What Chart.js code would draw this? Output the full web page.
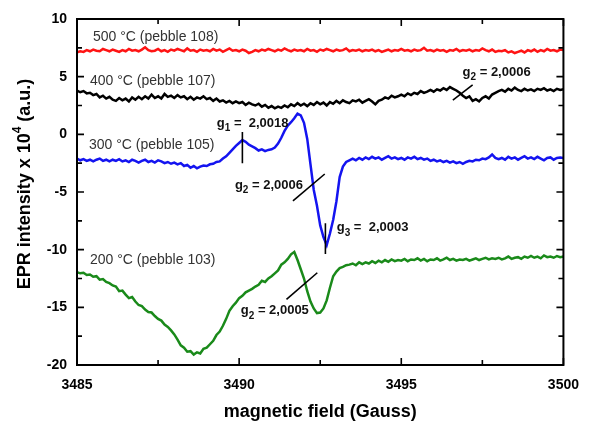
<!DOCTYPE html>
<html>
<head>
<meta charset="utf-8">
<script src="https://cdn.jsdelivr.net/npm/chart.js@4.4.1/dist/chart.umd.min.js"></script>
<style>
  html, body { margin: 0; padding: 0; background: #fff; }
  #epr { display: block; }
</style>
</head>
<body>
<canvas id="epr" width="591" height="423"></canvas>
<script>
// 磁場 (Gauss)
const field = [
  3485.0, 3485.1, 3485.2, 3485.3, 3485.4, 3485.5, 3485.6, 3485.7, 3485.8, 3485.9,
  3486.0, 3486.1, 3486.2, 3486.3, 3486.4, 3486.5, 3486.6, 3486.7, 3486.8, 3486.9,
  3487.0, 3487.1, 3487.2, 3487.3, 3487.4, 3487.5, 3487.6, 3487.7, 3487.8, 3487.9,
  3488.0, 3488.1, 3488.2, 3488.3, 3488.4, 3488.5, 3488.6, 3488.7, 3488.8, 3488.9,
  3489.0, 3489.1, 3489.2, 3489.3, 3489.4, 3489.5, 3489.6, 3489.7, 3489.8, 3489.9,
  3490.0, 3490.1, 3490.2, 3490.3, 3490.4, 3490.5, 3490.6, 3490.7, 3490.8, 3490.9,
  3491.0, 3491.1, 3491.2, 3491.3, 3491.4, 3491.5, 3491.6, 3491.7, 3491.8, 3491.9,
  3492.0, 3492.1, 3492.2, 3492.3, 3492.4, 3492.5, 3492.6, 3492.7, 3492.8, 3492.9,
  3493.0, 3493.1, 3493.2, 3493.3, 3493.4, 3493.5, 3493.6, 3493.7, 3493.8, 3493.9,
  3494.0, 3494.1, 3494.2, 3494.3, 3494.4, 3494.5, 3494.6, 3494.7, 3494.8, 3494.9,
  3495.0, 3495.1, 3495.2, 3495.3, 3495.4, 3495.5, 3495.6, 3495.7, 3495.8, 3495.9,
  3496.0, 3496.1, 3496.2, 3496.3, 3496.4, 3496.5, 3496.6, 3496.7, 3496.8, 3496.9,
  3497.0, 3497.1, 3497.2, 3497.3, 3497.4, 3497.5, 3497.6, 3497.7, 3497.8, 3497.9,
  3498.0, 3498.1, 3498.2, 3498.3, 3498.4, 3498.5, 3498.6, 3498.7, 3498.8, 3498.9,
  3499.0, 3499.1, 3499.2, 3499.3, 3499.4, 3499.5, 3499.6, 3499.7, 3499.8, 3499.9,
  3500.0
];

// 500 °C (pebble 108)
const epr500 = [
  7.1, 7.2, 7.15, 7.3, 7.2, 7.35, 7.25, 7.2, 7.4, 7.3,
  7.2, 7.35, 7.25, 7.15, 7.3, 7.2, 7.4, 7.25, 7.3, 7.2,
  7.35, 7.55, 7.3, 7.2, 7.25, 7.4, 7.2, 7.3, 7.15, 7.35,
  7.25, 7.4, 7.3, 7.2, 7.45, 7.25, 7.3, 7.15, 7.35, 7.25,
  7.3, 7.2, 7.4, 7.25, 7.35, 7.15, 7.3, 7.45, 7.25, 7.3,
  7.2, 7.35, 7.25, 7.05, 7.15, 7.3, 7.2, 7.35, 7.25, 7.4,
  7.3, 7.2, 7.35, 7.25, 7.45, 7.3, 7.2, 7.35, 7.25, 7.3,
  7.2, 7.4, 7.25, 7.3, 7.15, 7.35, 7.25, 7.4, 7.3, 7.2,
  7.35, 7.25, 7.3, 7.45, 7.2, 7.3, 7.25, 7.35, 7.2, 7.3,
  7.25, 7.35, 7.2, 7.3, 7.15, 7.25, 7.35, 7.2, 7.3, 7.25,
  7.4, 7.25, 7.3, 7.2, 7.35, 7.25, 7.3, 7.5, 7.25, 7.3,
  7.2, 7.35, 7.25, 7.3, 7.15, 7.3, 7.25, 7.4, 7.2, 7.3,
  7.25, 7.35, 7.2, 7.3, 7.25, 7.45, 7.3, 7.2, 7.35, 7.15,
  7.25, 7.2, 7.3, 7.1, 7.2, 7.05, 7.15, 7.25, 7.1, 7.3,
  7.2, 7.35, 7.15, 7.3, 7.2, 7.4, 7.25, 7.3, 7.2, 7.35,
  7.3
];

// 400 °C (pebble 107)
const epr400 = [
  3.8, 3.65, 3.75, 3.55, 3.6, 3.4, 3.5, 3.2, 3.35, 3.1,
  3.25, 3.0, 2.9, 3.15, 2.95, 3.1, 2.85, 3.2, 3.0, 3.25,
  3.05, 3.3, 3.1, 3.45, 3.15, 3.3, 3.1, 3.5, 3.25, 3.35,
  3.15, 3.4, 3.2, 3.3, 3.05, 3.25, 3.0, 3.2, 3.1, 3.3,
  3.05, 3.15, 2.9, 3.1, 2.85, 2.95, 2.75, 2.9, 2.7, 2.85,
  2.7, 2.8, 2.55, 2.75, 2.6, 2.5, 2.65, 2.4, 2.55, 2.3,
  2.45, 2.25, 2.4, 2.3, 2.5, 2.35, 2.6, 2.45, 2.7, 2.5,
  2.65, 2.45, 2.7, 2.55, 2.8, 2.6, 2.75, 2.5, 2.8, 2.65,
  2.9, 2.7, 2.95, 2.8, 2.7, 2.95, 2.85, 3.0, 2.75, 2.9,
  3.05, 2.85, 2.6, 2.9, 3.0, 3.2, 3.1, 3.35, 3.2, 3.3,
  3.45, 3.3, 3.55, 3.4, 3.6, 3.5, 3.75, 3.6, 3.7, 3.85,
  3.7, 3.9, 3.8, 4.0, 3.85, 4.1, 3.95, 3.8, 3.6, 3.35,
  3.15, 3.3, 2.9, 3.05, 2.85, 3.15, 3.3, 3.1, 3.45, 3.6,
  3.75, 3.85, 3.7, 3.95, 3.8, 4.05, 3.85, 3.75, 3.95, 3.8,
  3.9, 3.75, 3.95, 3.85, 4.0, 3.8, 3.9, 3.75, 3.95, 3.85,
  3.9
];

// 300 °C (pebble 105)
const epr300 = [
  -2.1, -2.25, -2.15, -2.3, -2.2, -2.35, -2.2, -2.1, -2.3, -2.2,
  -2.35, -2.2, -2.3, -2.15, -2.35, -2.25, -2.4, -2.2, -2.3, -2.45,
  -2.3, -2.2, -2.4, -2.3, -2.45, -2.25, -2.35, -2.5, -2.4, -2.55,
  -2.45, -2.6, -2.5, -2.75, -2.65, -2.9, -2.75, -2.95, -2.8, -2.7,
  -2.75, -2.6, -2.55, -2.4, -2.35, -2.1, -1.9, -1.6, -1.3, -1.0,
  -0.75, -0.5, -0.65, -0.9, -1.05, -1.2, -1.4, -1.3, -1.45, -1.35,
  -1.3, -1.15, -0.8, -0.3, 0.3, 0.75, 1.05, 1.4, 1.8, 1.65,
  1.0, -0.4, -2.6, -4.8, -6.2, -7.9, -8.9, -9.6, -8.6, -7.4,
  -5.8, -3.7, -2.8, -2.4, -2.25, -2.1, -2.25, -2.05, -2.2, -2.0,
  -2.15, -1.95, -2.1, -2.0, -2.2, -2.05, -1.9, -2.1, -2.0, -2.15,
  -2.05, -2.2, -2.0, -2.1, -1.95, -2.15, -2.05, -2.2, -2.1, -2.3,
  -2.2, -2.35, -2.25, -2.4, -2.3, -2.45, -2.35, -2.5, -2.4, -2.55,
  -2.4, -2.3, -2.35, -2.2, -2.25, -2.1, -2.15, -2.0, -1.75, -2.05,
  -2.15, -2.05, -2.2, -1.95, -2.1, -2.0, -2.2, -2.05, -1.9, -2.1,
  -2.0, -2.15, -1.95, -2.1, -2.25, -2.05, -2.0, -2.2, -2.05, -2.0,
  -2.05
];

// 200 °C (pebble 103)
const epr200 = [
  -11.95, -12.05, -12.0, -12.2, -12.15, -12.35, -12.3, -12.6, -12.55, -12.8,
  -12.9, -13.1, -13.2, -13.6, -13.55, -13.9, -14.2, -14.1, -14.5, -14.8,
  -14.9, -15.2, -15.4, -15.45, -15.75, -16.0, -16.15, -16.5, -16.7, -17.0,
  -17.35, -17.8, -18.3, -18.5, -18.85, -18.8, -19.1, -18.9, -19.0, -18.6,
  -18.5, -18.2, -17.9, -17.4, -17.1, -16.6, -16.0, -15.3, -14.9, -14.6,
  -14.2, -14.0, -13.7, -13.55, -13.4, -13.2, -13.05, -12.7, -12.8, -12.5,
  -12.3, -12.05, -11.8, -11.3, -11.1, -10.8, -10.4, -10.2, -10.9, -11.7,
  -12.5, -13.6, -14.5, -15.1, -15.5, -15.45, -15.1, -14.4, -13.3, -12.3,
  -11.9, -11.6, -11.5, -11.35, -11.3, -11.2, -11.35, -11.1, -11.25, -11.1,
  -11.2, -11.0, -11.15, -10.95, -11.1, -10.9, -11.05, -10.85, -11.0, -10.9,
  -10.95, -10.8, -11.0, -10.85, -10.9, -10.75, -10.95, -10.8, -11.0, -10.85,
  -10.9, -10.75, -10.95, -10.85, -10.7, -10.9, -10.8, -10.95, -10.85, -10.9,
  -10.8, -10.95, -10.85, -10.75, -10.9, -10.8, -10.7, -10.85, -10.75, -10.8,
  -10.7, -10.85, -10.75, -10.6, -10.8, -10.7, -10.65, -10.8, -10.6, -10.7,
  -10.55, -10.7, -10.6, -10.75, -10.5, -10.65, -10.6, -10.7, -10.55, -10.65,
  -10.6
];

const seriesNames = ['500 °C (pebble 108)', '400 °C (pebble 107)', '300 °C (pebble 105)', '200 °C (pebble 103)'];
const xTickLabels = ['3485', '3490', '3495', '3500'];
const yTickLabels = ['-20', '-15', '-10', '-5', '0', '5', '10'];

// g値のラベル [g, 添字, 残り]
const gTexts = [
  ['g', '1', ' =  2,0018'],
  ['g', '2', ' = 2,0006'],
  ['g', '3', ' =  2,0003'],
  ['g', '2', ' = 2,0005'],
  ['g', '2', ' = 2,0006']
];

const FONT = '"Liberation Sans", Arial, sans-serif';
const colors = ['#ff1414', '#000000', '#1414f0', '#1a8a1a'];

// 注釈の位置 (データ座標)
const namePos = [[3485.49, 8.44], [3485.40, 4.62], [3485.37, -0.93], [3485.40, -10.9]];
const gPos = [[3489.31, 0.98], [3489.87, -4.4], [3493.01, -8.1], [3490.05, -15.3], [3496.89, 5.4]];
const markLines = [
  [[3490.1, 0.2], [3490.1, -2.5]],
  [[3491.66, -5.76], [3492.64, -3.44]],
  [[3492.66, -7.72], [3492.66, -10.38]],
  [[3491.46, -14.31], [3492.41, -12.0]],
  [[3496.59, 2.97], [3497.2, 4.28]]
];

const curves = [epr500, epr400, epr300, epr200].map((vals, i) => ({
  label: seriesNames[i],
  data: field.map((x, j) => ({ x: x, y: vals[j] })),
  borderColor: colors[i],
  borderWidth: 2.5,
  pointRadius: 0,
  tension: 0,
  order: 2
}));

const marks = markLines.map(seg => ({
  label: '',
  data: seg.map(p => ({ x: p[0], y: p[1] })),
  borderColor: '#000',
  borderWidth: 1.6,
  pointRadius: 0,
  order: 1
}));

// 枠、内向きの目盛り、注釈
const framePlugin = {
  id: 'frame',
  afterDraw(chart) {
    const { ctx, chartArea: a, scales: { x, y } } = chart;
    ctx.save();
    ctx.strokeStyle = '#000';
    ctx.lineWidth = 2;
    ctx.strokeRect(a.left, a.top, a.right - a.left, a.bottom - a.top);

    ctx.lineWidth = 1.6;
    ctx.beginPath();
    x.ticks.forEach(t => {
      const px = x.getPixelForValue(t.value);
      const len = Math.abs(t.value % 5) < 0.01 ? 7 : 5;
      ctx.moveTo(px, a.bottom); ctx.lineTo(px, a.bottom - len);
      ctx.moveTo(px, a.top); ctx.lineTo(px, a.top + len);
    });
    y.ticks.forEach(t => {
      const py = y.getPixelForValue(t.value);
      const len = Math.abs(t.value % 5) < 0.01 ? 7 : 5;
      ctx.moveTo(a.left, py); ctx.lineTo(a.left + len, py);
      ctx.moveTo(a.right, py); ctx.lineTo(a.right - len, py);
    });
    ctx.stroke();

    // 温度ラベル
    ctx.fillStyle = '#333';
    ctx.textBaseline = 'middle';
    ctx.textAlign = 'left';
    ctx.font = '14px ' + FONT;
    seriesNames.forEach((s, i) => {
      ctx.fillText(s, x.getPixelForValue(namePos[i][0]), y.getPixelForValue(namePos[i][1]));
    });

    // g値
    ctx.fillStyle = '#111';
    gTexts.forEach((g, i) => {
      let px = x.getPixelForValue(gPos[i][0]);
      const py = y.getPixelForValue(gPos[i][1]);
      ctx.font = 'bold 13px ' + FONT;
      ctx.fillText(g[0], px, py);
      px += ctx.measureText(g[0]).width;
      ctx.font = 'bold 10px ' + FONT;
      ctx.fillText(g[1], px, py + 5);
      px += ctx.measureText(g[1]).width;
      ctx.font = 'bold 13px ' + FONT;
      ctx.fillText(g[2], px, py);
    });

    // 縦軸タイトル
    ctx.fillStyle = '#000';
    ctx.translate(25, 184);
    ctx.rotate(-Math.PI / 2);
    const t1 = 'EPR intensity x 10', t2 = '4', t3 = ' (a.u.)';
    ctx.font = 'bold 18px ' + FONT;
    const w1 = ctx.measureText(t1).width, w3 = ctx.measureText(t3).width;
    ctx.font = 'bold 12px ' + FONT;
    const w2 = ctx.measureText(t2).width;
    let tx = -(w1 + w2 + w3) / 2;
    ctx.font = 'bold 18px ' + FONT;
    ctx.fillText(t1, tx, 0);
    tx += w1;
    ctx.font = 'bold 12px ' + FONT;
    ctx.fillText(t2, tx, -7);
    tx += w2;
    ctx.font = 'bold 18px ' + FONT;
    ctx.fillText(t3, tx, 0);
    ctx.restore();
  }
};

const ctx = document.getElementById('epr').getContext('2d');
new Chart(ctx, {
  type: 'line',
  data: { datasets: marks.concat(curves) },
  options: {
    responsive: false,
    animation: false,
    layout: { padding: { top: 19, right: 27, left: 0, bottom: 0 } },
    plugins: { legend: { display: false }, tooltip: { enabled: false } },
    scales: {
      x: {
        type: 'linear',
        min: 3485,
        max: 3500,
        afterFit: s => { s.height = 58; },
        grid: { display: false, drawTicks: false },
        border: { display: false },
        ticks: {
          stepSize: 2.5,
          autoSkip: false,
          maxRotation: 0,
          padding: 12,
          color: '#000',
          font: { family: FONT, size: 14, weight: 'bold' },
          callback: v => xTickLabels.includes(String(v)) ? String(v) : ''
        },
        title: {
          display: true,
          text: 'magnetic field (Gauss)',
          color: '#000',
          font: { family: FONT, size: 18, weight: 'bold' },
          padding: { top: 0, bottom: 0 }
        }
      },
      y: {
        min: -20,
        max: 10,
        afterFit: s => { s.width = 77; },
        grid: { display: false, drawTicks: false },
        border: { display: false },
        ticks: {
          stepSize: 2.5,
          autoSkip: false,
          padding: 10,
          color: '#000',
          font: { family: FONT, size: 14, weight: 'bold' },
          callback: v => yTickLabels.includes(String(v)) ? String(v) : ''
        }
      }
    }
  },
  plugins: [framePlugin]
});
</script>
</body>
</html>
